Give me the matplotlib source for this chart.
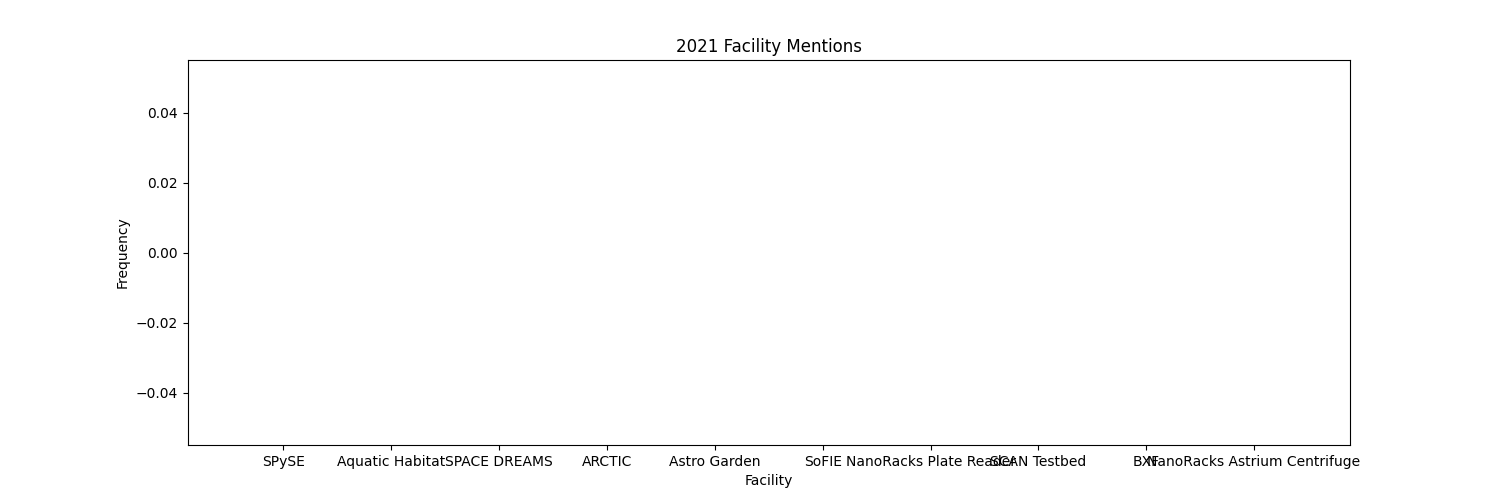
import matplotlib
matplotlib.use("Agg")
import matplotlib.pyplot as plt

# facility names and how often each was mentioned in 2021
facilities = ["SPySE", "Aquatic Habitat", "SPACE DREAMS", "ARCTIC", "Astro Garden",
              "SoFIE", "NanoRacks Plate Reader", "SCAN Testbed", "BXF",
              "NanoRacks Astrium Centrifuge"]
mentions = [0, 0, 0, 0, 0, 0, 0, 0, 0, 0]

plt.figure(figsize=(15, 5))
plt.bar(facilities, mentions)
plt.xlabel("Facility")
plt.ylabel("Frequency")
plt.title("2021 Facility Mentions")
plt.savefig("out.png", dpi=100)
plt.close()
